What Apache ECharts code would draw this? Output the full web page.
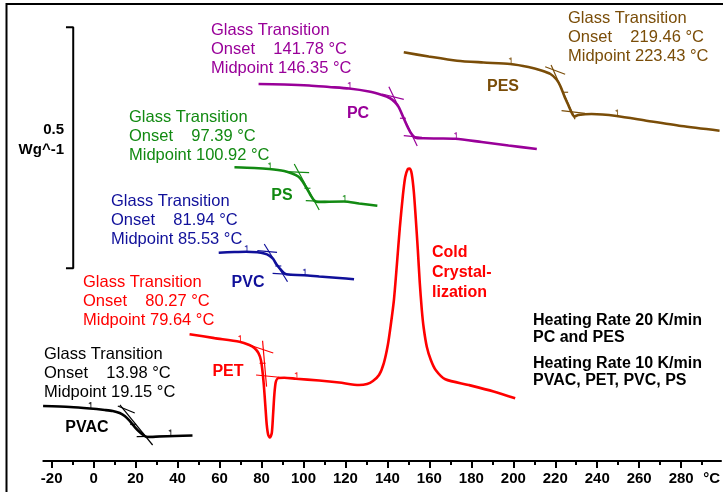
<!DOCTYPE html>
<html>
<head>
<meta charset="utf-8">
<script src="https://cdn.jsdelivr.net/npm/echarts@6/dist/echarts.min.js"></script>
<style>
  html, body { margin: 0; padding: 0; background: #ffffff; }
  #chart { width: 723px; height: 492px; }
</style>
</head>
<body>
<div id="chart"></div>
<script>
// DSC heat-flow curves (W/g, stacked with offsets) versus temperature (°C)
const FONT = '"Liberation Sans", Arial, Helvetica, sans-serif';

const majorTicks = [-20, 0, 20, 40, 60, 80, 100, 120, 140, 160, 180, 200, 220, 240, 260, 280];
const minorTicks = [-10, 10, 30, 50, 70, 90, 110, 130, 150, 170, 190, 210, 230, 250, 270, 290];
const unitLabelPos = 294.5;

// [temperature °C, heat flow W/g + offset]
const pvacCurve = [[-24.1,0.1141],[-11.3,0.1120],[-1.8,0.1089],[5.3,0.1058],[9.1,0.1037],[12.4,0.0996],
  [14.8,0.0934],[17.2,0.0830],[19.6,0.0705],[21.9,0.0602],[24.3,0.0519],[25.7,0.0498],[31.4,0.0508],
  [38.6,0.0519],[47.1,0.0529]];
const petCurve = [[45.7,0.263],[57.6,0.255],[69.5,0.2475],[74.2,0.2407],[76.6,0.2344],[78.5,0.2241],
  [79.7,0.2095],[80.4,0.1888],[81.1,0.1577],[81.8,0.1162],[82.5,0.0747],[83.2,0.0539],[84.0,0.0488],
  [84.9,0.0581],[85.5,0.0954],[86.1,0.1369],[86.8,0.1639],[88.0,0.1722],[90.8,0.1726],[96.4,0.1707],
  [107.5,0.1670],[117.0,0.1629],[126.5,0.1577],[130.3,0.1598],[133.1,0.1660],[136.0,0.1784],
  [138.3,0.2033],[140.2,0.2407],[141.6,0.2822],[143.1,0.3340],[144.5,0.4066],[145.9,0.4834],
  [147.4,0.5519],[148.5,0.5892],[149.7,0.6058],[150.7,0.6068],[151.6,0.5954],[152.6,0.5581],
  [153.5,0.5041],[154.5,0.4378],[155.4,0.3714],[156.4,0.3133],[157.3,0.2759],[158.8,0.2365],
  [160.7,0.2095],[163.0,0.1888],[167.6,0.1695],[178.7,0.1577],[190.6,0.1442],[200.9,0.1301]];
const pvcCurve = [[59.6,0.4322],[67.1,0.4336],[72.6,0.4342],[78.0,0.4330],[81.3,0.4305],[83.7,0.4263],
  [85.6,0.4191],[87.0,0.4087],[88.7,0.3994],[90.4,0.3911],[91.8,0.3873],[94.2,0.3863],[100.3,0.3855],
  [107.5,0.3828],[117.0,0.3797],[124.1,0.3770]];
const psCurve = [[67.1,0.6093],[76.6,0.6079],[83.7,0.6058],[90.8,0.6017],[94.6,0.5965],[97.5,0.5903],
  [99.4,0.5809],[101.3,0.5674],[103.2,0.5529],[105.1,0.5405],[107.0,0.5373],[112.2,0.5380],
  [119.3,0.5384],[126.5,0.5342],[135.2,0.5297]];
const pcCurve = [[78.6,0.7822],[90.8,0.7811],[102.7,0.7790],[112.2,0.7759],[121.7,0.7728],[131.2,0.7666],
  [137.4,0.7593],[141.1,0.7531],[143.5,0.7448],[145.4,0.7344],[147.3,0.7158],[149.3,0.6961],
  [151.2,0.6805],[153.4,0.6707],[157.3,0.6695],[164.5,0.6691],[172.4,0.6685],[184.9,0.6618],
  [197.7,0.6546],[211.2,0.6473]];
const pesCurve = [[147.8,0.8479],[159.7,0.8392],[173.2,0.8305],[185.8,0.8268],[198.5,0.8237],
  [207.2,0.8174],[213.4,0.8102],[217.7,0.8029],[220.6,0.7915],[222.4,0.7780],[224.3,0.7573],
  [226.3,0.7376],[227.9,0.7220],[229.1,0.7147],[231.0,0.7178],[237.3,0.7199],[249.2,0.7158],
  [264.2,0.7054],[280.0,0.6950],[298.3,0.6853]];

// tangent construction lines for the onset evaluation
const pvacTangents = [[[11.5,0.1141],[19.6,0.0996]], [[12.5,0.1162],[28.1,0.0332]], [[20.5,0.0504],[36.2,0.0519]]];
const petTangents  = [[[72.8,0.2427],[85.6,0.2241]], [[80.5,0.2496],[82.4,0.1542]], [[77.4,0.1784],[88.5,0.1737]]];
const pvcTangents  = [[[78.0,0.4363],[87.4,0.4330]], [[81.3,0.4502],[92.4,0.3720]], [[85.3,0.3894],[102.7,0.3849]]];
const psTangents   = [[[91.6,0.6002],[102.7,0.5981]], [[95.6,0.6162],[107.5,0.5207]], [[101.1,0.5400],[112.2,0.5380]]];
const pcTangents   = [[[137.5,0.7614],[147.8,0.7504]], [[140.7,0.7766],[154.2,0.6535]], [[147.8,0.6749],[156.5,0.6716]]];
const pesTangents  = [[[215.2,0.8180],[224.7,0.8023]], [[218.0,0.8216],[229.4,0.7089]], [[223.0,0.7268],[234.2,0.7214]]];

// evaluation limits (flags) and midpoint marks
const pvacFlags = [[-1.8,0.1089],[36.3,0.0519]];
const petFlags  = [[69.5,0.2475],[96.4,0.1707]];
const pvcFlags  = [[72.6,0.4342],[100.3,0.3855]];
const psFlags   = [[83.7,0.6058],[119.3,0.5384]];
const pcFlags   = [[121.7,0.7728],[172.4,0.6685]];
const pesFlags  = [[198.5,0.8237],[249.2,0.7158]];
const midMarks  = [[18.8,0.076],[80.5,0.2027],[88.0,0.4046],[101.9,0.5658],[147.4,0.711],[224.7,0.7649]];

// 0.5 W/g scale bracket
const scaleBar = [[-13.2,0.900],[-9.74,0.900],[-9.74,0.400],[-13.2,0.400]];

const samples   = ['PVAC', 'PET', 'PVC', 'PS', 'PC', 'PES'];
const colors    = ['#000000', '#ff0000', '#10109a', '#128a12', '#990099', '#7a4d08'];
const onsets    = [13.98, 80.27, 81.94, 97.39, 141.78, 219.46];
const midpoints = [19.15, 79.64, 85.53, 100.92, 146.35, 223.43];
const curves    = [pvacCurve, petCurve, pvcCurve, psCurve, pcCurve, pesCurve];
const tangents  = [pvacTangents, petTangents, pvcTangents, psTangents, pcTangents, pesTangents];
const flags     = [pvacFlags, petFlags, pvcFlags, psFlags, pcFlags, pesFlags];

const flagSymbol = 'path://M2,0 L3,0 L3,6 L2,6 Z M0,1.2 L2,0 L2,2.4 Z';

const series = [];
samples.forEach(function (name, i) {
  series.push({
    name: name, type: 'line', data: curves[i], smooth: 0.25, showSymbol: false,
    lineStyle: { color: colors[i], width: 2.6 }, z: 3, silent: true
  });
  series.push({
    type: 'lines', coordinateSystem: 'cartesian2d', silent: true, z: 4,
    lineStyle: { color: colors[i], width: 1.2, opacity: 1 },
    data: tangents[i].map(function (seg) { return { coords: seg }; })
  });
  series.push({
    type: 'scatter', data: flags[i], symbol: flagSymbol, symbolSize: [3, 6],
    symbolOffset: [0, -3.5], itemStyle: { color: colors[i] }, z: 5, silent: true
  });
  series.push({
    type: 'scatter', data: [midMarks[i]], symbol: 'rect', symbolSize: [6, 1.4],
    itemStyle: { color: colors[i] }, z: 5, silent: true
  });
});
series.push({
  type: 'line', data: scaleBar, showSymbol: false, silent: true,
  lineStyle: { color: '#000000', width: 2 }
});

function txt(x, y, s, color, bold, size, align) {
  return {
    type: 'text', x: x, y: y, silent: true,
    style: {
      text: s, fill: color, align: align || 'left', verticalAlign: 'middle',
      font: (bold ? 'bold ' : '') + (size || 16.5) + 'px ' + FONT
    }
  };
}
function glassBlock(x, y, i) {
  const c = colors[i];
  return [
    txt(x, y, 'Glass Transition', c),
    txt(x, y + 19, 'Onset    ' + onsets[i].toFixed(2) + ' °C', c),
    txt(x, y + 38, 'Midpoint ' + midpoints[i].toFixed(2) + ' °C', c)
  ];
}

const blockPos = [[44, 354], [83, 282], [111, 201], [129, 117], [211, 30], [568, 18]];
const namePos  = [[87, 428], [228, 372], [248, 283], [282, 196], [358, 114], [503, 87]];

let graphics = [
  { type: 'polyline', silent: true, shape: { points: [[6.5, 492], [6.5, 4], [723, 4]] },
    style: { stroke: '#000000', lineWidth: 2, fill: null } }
];
samples.forEach(function (name, i) {
  graphics = graphics.concat(glassBlock(blockPos[i][0], blockPos[i][1], i));
  graphics.push(txt(namePos[i][0], namePos[i][1], name, colors[i], true, 16, 'center'));
});
graphics.push(
  txt(432, 253, 'Cold', '#ff0000', true, 16),
  txt(432, 273, 'Crystal-', '#ff0000', true, 16),
  txt(432, 293, 'lization', '#ff0000', true, 16),
  txt(533, 321, 'Heating Rate 20 K/min', '#000000', true, 16),
  txt(533, 338, 'PC and PES', '#000000', true, 16),
  txt(533, 364, 'Heating Rate 10 K/min', '#000000', true, 16),
  txt(533, 381, 'PVAC, PET, PVC, PS', '#000000', true, 16),
  txt(64, 130, '0.5', '#000000', true, 15, 'right'),
  txt(64, 150, 'Wg^-1', '#000000', true, 15, 'right')
);

const chart = echarts.init(document.getElementById('chart'), null, { renderer: 'canvas' });
chart.setOption({
  animation: false,
  backgroundColor: '#ffffff',
  grid: { left: 43.3, right: 0, top: 3.1, bottom: 31, containLabel: false },
  xAxis: [
    {
      type: 'value', min: -24, max: 299, position: 'bottom',
      axisLine: { show: true, lineStyle: { color: '#000000', width: 2 } },
      axisTick: { show: true, customValues: majorTicks, length: 7, inside: false,
                  lineStyle: { color: '#000000', width: 2 } },
      axisLabel: {
        show: true, customValues: majorTicks.concat([unitLabelPos]), margin: 10,
        color: '#000000', fontSize: 15, fontWeight: 'bold', fontFamily: FONT,
        formatter: function (v) { return v === unitLabelPos ? '°C' : String(v); }
      },
      splitLine: { show: false }
    },
    {
      type: 'value', min: -24, max: 299, position: 'bottom', offset: 0,
      axisLine: { show: false },
      axisTick: { show: true, customValues: minorTicks, length: 4, inside: false,
                  lineStyle: { color: '#000000', width: 2 } },
      axisLabel: { show: false },
      splitLine: { show: false }
    }
  ],
  yAxis: { type: 'value', min: 0, max: 0.95, show: false, splitLine: { show: false } },
  series: series,
  graphic: graphics
});
</script>
</body>
</html>
